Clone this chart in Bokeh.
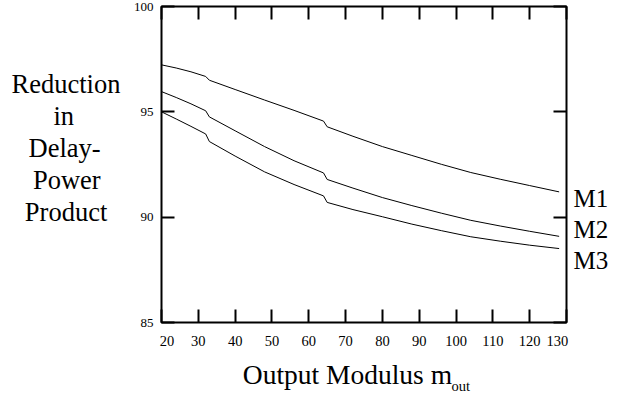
from bokeh.plotting import figure
from bokeh.models import FixedTicker, LinearAxis, Range1d
from bokeh.embed import file_html
from bokeh.resources import INLINE

# ---- data ----
m_out = [20, 24, 28, 32, 33, 40, 48, 56, 64, 65, 72, 80, 88, 96, 104, 112, 120, 128]
m1 = [97.23, 97.08, 96.90, 96.68, 96.50, 96.06, 95.56, 95.07, 94.56, 94.29,
      93.84, 93.35, 92.93, 92.51, 92.12, 91.80, 91.50, 91.20]
m2 = [95.96, 95.68, 95.38, 95.05, 94.76, 94.10, 93.35, 92.68, 92.10, 91.79,
      91.38, 90.93, 90.55, 90.19, 89.85, 89.58, 89.33, 89.09]
m3 = [95.00, 94.66, 94.31, 93.95, 93.59, 92.90, 92.15, 91.55, 91.01, 90.70,
      90.36, 90.02, 89.67, 89.36, 89.07, 88.86, 88.67, 88.51]
series_names = ["M1", "M2", "M3"]

x_ticks = [20, 30, 40, 50, 60, 70, 80, 90, 100, 110, 120, 130]
y_ticks = [85, 90, 95, 100]
y_title_lines = ["Reduction", "in", "Delay-", "Power", "Product"]
x_title = "Output Modulus m"
x_title_sub = "out"

# ---- layout / style constants ----
FONT = "Liberation Serif"
NB = "\u00a0"
series_label_pos = [90.9, 89.42, 87.94]   # where the series names sit (y)
y_title_pos = 93.3                         # centre of the left title block (y)
y_title_pad = [0, 7, 3, 3, 2]              # right padding that centres each line
x_title_pos = 70.5                         # centre of the main x title (x)
x_sub_pos = 101.3                          # centre of the subscript (x)
x_label_pad = {20: (3, 0), 130: (0, 5)}    # (left, right) padding of end labels

W, H = 623, 396
p = figure(width=W, height=H, output_backend="svg", toolbar_location=None,
           x_range=Range1d(20, 130), y_range=Range1d(85, 100),
           min_border_left=161, min_border_right=W - 566,
           min_border_top=6, min_border_bottom=H - 326,
           margin=0)
p.grid.visible = False
p.outline_line_color = "black"
p.outline_line_width = 2
p.background_fill_color = "white"
p.border_fill_color = "white"

p.add_layout(LinearAxis(), "above")
p.add_layout(LinearAxis(), "right")

for ax in p.xaxis:
    ax.ticker = FixedTicker(ticks=x_ticks)
for ax in p.yaxis:
    ax.ticker = FixedTicker(ticks=y_ticks)

for ax in p.axis:
    ax.axis_line_color = None
    ax.major_tick_in = 13
    ax.major_tick_out = 0
    ax.major_tick_line_width = 2
    ax.major_tick_line_color = "black"
    ax.minor_tick_line_color = None
    ax.major_label_text_font = FONT
    ax.major_label_text_color = "black"

p.below[0].major_label_text_font_size = "14.5px"
p.below[0].major_label_standoff = 10
p.below[0].major_label_overrides = {
    t: NB * l + str(t) + NB * r for t, (l, r) in x_label_pad.items()}
p.left[0].major_label_text_font_size = "13px"
p.left[0].major_label_standoff = 8
for ax in (p.above[0], p.right[0]):
    ax.major_label_text_font_size = "0px"
    ax.major_label_text_color = None
    ax.major_label_standoff = 0


def text_axis(side, ticks, labels, size, standoff, **kw):
    ax = LinearAxis(ticker=FixedTicker(ticks=ticks),
                    major_label_overrides={t: s for t, s in zip(ticks, labels)},
                    axis_line_color=None, major_tick_line_color=None,
                    minor_tick_line_color=None, major_tick_in=0, major_tick_out=0,
                    major_label_standoff=standoff,
                    major_label_text_font=FONT, major_label_text_font_size=size,
                    major_label_text_color="black", **kw)
    p.add_layout(ax, side)
    return ax


# series names at the right
text_axis("right", series_label_pos, series_names, "25px", 7)

# x title with subscript
text_axis("below", [x_title_pos], [x_title], "27.5px", 7)
text_axis("below", [x_sub_pos], [x_title_sub], "14.5px", -15)

# left title: one block of centred lines
block = "\n".join(s + NB * n for s, n in zip(y_title_lines, y_title_pad))
text_axis("left", [y_title_pos], [block], "26.5px", 10,
          major_label_text_line_height=1.067)

for ys in (m1, m2, m3):
    p.line(m_out, ys, line_color="black", line_width=1)

open("out.html", "w").write(file_html(p, INLINE))
